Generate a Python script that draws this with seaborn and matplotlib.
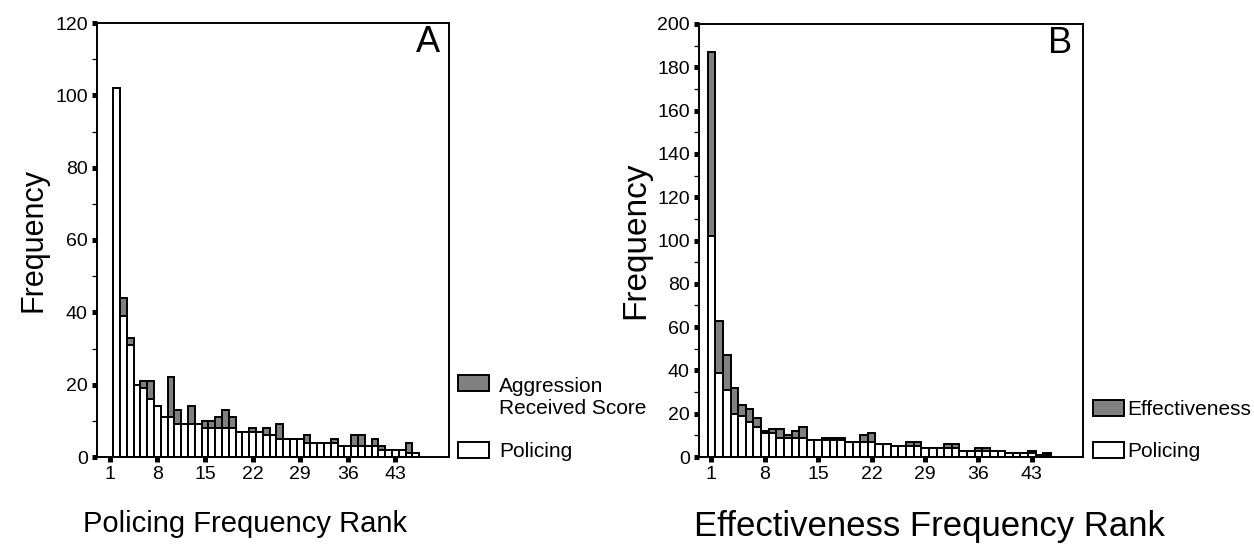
import matplotlib
matplotlib.use("Agg")
import matplotlib.pyplot as plt
import seaborn as sns
import numpy as np
from matplotlib.patches import Patch, Rectangle
from matplotlib.legend_handler import HandlerPatch
from matplotlib.ticker import MultipleLocator

# ===== DATA =====
# policing frequency per rank, same series in both panels
policing = [102, 39, 31, 20, 19, 16, 14, 11, 11, 9, 9, 9, 9, 8, 8, 8, 8, 8, 7, 7,
            7, 7, 6, 6, 5, 5, 5, 5, 4, 4, 4, 4, 4, 3, 3, 3, 3, 3, 3, 2,
            2, 2, 2, 1, 1]
# panel A: aggression received score
aggression = [98, 44, 33, 20, 21, 21, 14, 11, 22, 13, 9, 14, 9, 10, 10, 11, 13, 11, 7, 7,
              8, 7, 8, 6, 9, 5, 5, 5, 6, 4, 4, 4, 5, 3, 3, 6, 6, 3, 5, 3,
              2, 2, 2, 4, 1]
# panel B: effectiveness
effectiveness = [187, 63, 47, 32, 24, 22, 18, 12, 13, 13, 10, 12, 14, 8, 8, 9, 9, 9, 7, 7,
                 10, 11, 6, 6, 5, 5, 7, 7, 4, 4, 4, 6, 6, 3, 3, 4, 4, 3, 2, 2,
                 2, 2, 3, 1, 2]
rank_ticks = [1, 8, 15, 22, 29, 36, 43]

ranks_b = np.arange(1, len(policing) + 1)
ranks_a = ranks_b + 1  # panel A bars sit one rank to the right

GRAY = "#808080"

sns.set_style("ticks")
plt.rcParams["font.family"] = ["Liberation Sans", "DejaVu Sans"]
plt.rcParams.update({"text.color": "black", "axes.labelcolor": "black",
                     "xtick.color": "black", "ytick.color": "black",
                     "axes.edgecolor": "black"})

fig = plt.figure(figsize=(12.54, 5.46), dpi=100)
axA = fig.add_axes([97 / 1254, 89 / 546, 352 / 1254, 434 / 546])
axB = fig.add_axes([699 / 1254, 89 / 546, 384 / 1254, 433 / 546])


def top_aligned_box(shift):
    # legend patch pushed up so it lines up with the first text line
    def make(legend, orig_handle, xdescent, ydescent, width, height, fontsize):
        return Rectangle((-xdescent, -ydescent + shift), width, height)
    return make


def panel(ax, ranks, other, other_label, ymax, xlim, letter, xlabel, xlab_size,
          ylab_size, xlab_x, ylab_x, leg_space, text_pad, box_shift):
    sns.barplot(x=ranks, y=other, native_scale=True, width=1, color=GRAY,
                saturation=1, edgecolor="black", linewidth=1.4, errorbar=None, ax=ax)
    sns.barplot(x=ranks, y=policing, native_scale=True, width=1, color="white",
                saturation=1, edgecolor="black", linewidth=1.4, errorbar=None, ax=ax)
    ax.set_xlim(*xlim)
    ax.set_ylim(0, ymax)
    ax.set_xticks(rank_ticks)
    ax.set_xticklabels([str(t) for t in rank_ticks])
    ax.yaxis.set_major_locator(MultipleLocator(20))
    ax.yaxis.set_minor_locator(MultipleLocator(10))
    ax.tick_params(axis="both", which="major", direction="out", length=3.6,
                   width=3.6, labelsize=14, pad=3)
    ax.tick_params(axis="y", which="minor", direction="out", length=3.6, width=0.9)
    for s in ax.spines.values():
        s.set_linewidth(1.4)
        s.set_visible(True)
    ax.set_xlabel(xlabel, fontsize=xlab_size)
    ax.set_ylabel("Frequency", fontsize=ylab_size)
    ax.xaxis.set_label_coords(xlab_x, -0.122)
    ax.yaxis.set_label_coords(ylab_x, 0.5)
    ax.text(0.94, 0.955, letter, transform=ax.transAxes, fontsize=26,
            ha="center", va="center")
    handles = [Patch(facecolor=GRAY, edgecolor="black", linewidth=1.4),
               Patch(facecolor="white", edgecolor="black", linewidth=1.4)]
    ax.legend(handles, [other_label, "Policing"], loc="lower left",
              bbox_to_anchor=(1.026, -0.01), frameon=False, fontsize=15,
              borderpad=0, borderaxespad=0, handlelength=1.5, handleheight=0.8,
              handletextpad=text_pad, labelspacing=leg_space,
              handler_map={handles[0]: HandlerPatch(patch_func=top_aligned_box(box_shift))})


panel(axA, ranks_a, aggression, "Aggression\nReceived Score", 120, (-0.9, 50.9), "A",
      "Policing Frequency Rank", 21, 22, 0.42, -0.139, 1.15, 0.45, 10.5)
panel(axB, ranks_b, effectiveness, "Effectiveness", 200, (-0.63, 49.7), "B",
      "Effectiveness Frequency Rank", 25, 24, 0.60, -0.125, 1.1, 0.15, 0)

fig.savefig("out.png", dpi=100)
